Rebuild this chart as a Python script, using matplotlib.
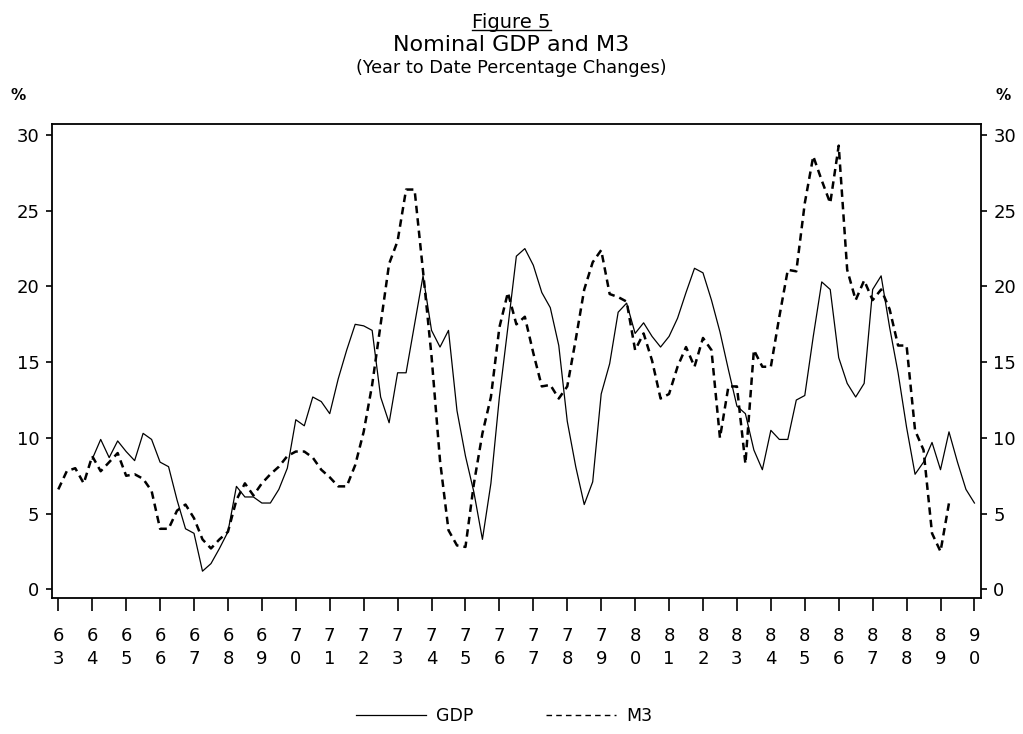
import matplotlib.pyplot as plt
from matplotlib.lines import Line2D
import numpy as np

# year-to-date % changes, quarterly
# GDP starts 1964 Q1, M3 starts 1963 Q1
gdp = [8.6, 9.9, 8.7, 9.8, 9.1, 8.5, 10.3, 9.9,
       8.4, 8.1, 5.9, 4.0, 3.7, 1.2, 1.7, 2.7,
       3.8, 6.8, 6.1, 6.1, 5.7, 5.7, 6.6, 8.0,
       11.2, 10.8, 12.7, 12.4, 11.6, 13.9, 15.8, 17.5,
       17.4, 17.1, 12.7, 11.0, 14.3, 14.3, 17.5, 20.7,
       17.1, 16.0, 17.1, 11.8, 8.8, 6.4, 3.3, 7.0,
       12.7, 17.3, 22.0, 22.5, 21.4, 19.6, 18.6, 16.1,
       11.1, 8.1, 5.6, 7.1, 12.9, 14.9, 18.3, 18.9,
       16.9, 17.6, 16.7, 16.0, 16.7, 17.9, 19.6, 21.2,
       20.9, 19.1, 17.0, 14.5, 12.1, 11.6, 9.2, 7.9,
       10.5, 9.9, 9.9, 12.5, 12.8, 16.7, 20.3, 19.8,
       15.3, 13.6, 12.7, 13.6, 19.8, 20.7, 17.3, 14.3,
       10.7, 7.6, 8.4, 9.7, 7.9, 10.4, 8.4, 6.6,
       5.7]
m3 = [6.6, 7.8, 8.0, 7.0, 8.8, 7.8, 8.4, 9.0,
      7.5, 7.6, 7.3, 6.5, 4.0, 4.0, 5.2, 5.6,
      4.7, 3.3, 2.7, 3.3, 3.8, 5.9, 7.0, 6.2,
      7.0, 7.6, 8.1, 8.8, 9.1, 9.1, 8.7, 7.9,
      7.4, 6.8, 6.8, 8.2, 10.4, 13.5, 17.5, 21.5,
      23.0, 26.4, 26.4, 21.0, 15.4, 8.5, 3.9, 2.9,
      2.8, 7.0, 10.3, 12.7, 17.3, 19.6, 17.5, 18.0,
      15.6, 13.4, 13.5, 12.6, 13.4, 16.5, 19.8, 21.6,
      22.4, 19.5, 19.3, 19.0, 15.8, 16.9, 15.1, 12.6,
      12.9, 14.7, 16.0, 14.7, 16.6, 15.8, 10.0, 13.4,
      13.4, 8.3, 15.8, 14.7, 14.7, 18.0, 21.1, 21.0,
      25.5, 28.6, 27.0, 25.5, 29.3, 21.1, 19.1, 20.4,
      19.1, 19.8, 18.5, 16.1, 16.1, 10.5, 9.2, 3.7,
      2.5, 5.7]
years = list(range(63, 91))
year_labels = [f"{y // 10}\n{y % 10}" for y in years]
yticks = [0, 5, 10, 15, 20, 25, 30]

t_gdp = 64 + np.arange(len(gdp)) / 4
t_m3 = 63 + np.arange(len(m3)) / 4

fig = plt.figure(figsize=(10.23, 7.34), dpi=100)
ax = fig.add_axes([0.0508, 0.1849, 0.9079, 0.6462])

ax.plot(t_gdp, gdp, color='black', lw=0.9)
ax.plot(t_m3, m3, color='black', lw=1.8, dashes=(3, 2))

ax.set_xlim(62.814, 90.186)
ax.set_ylim(-0.59, 30.73)
ax.set_xticks(years)
ax.set_xticklabels(year_labels, linespacing=1.3)
ax.set_yticks(yticks)
ax.tick_params(axis='x', direction='out', length=9, width=1.2, pad=12, labelsize=13)
ax.tick_params(axis='y', direction='out', length=4, width=1.2, pad=5, labelsize=13,
               left=True, right=True, labelleft=True, labelright=True)
for s in ax.spines.values():
    s.set_linewidth(1.3)

# titles
t1 = fig.text(0.5, 0.970, "Figure 5", ha='center', va='center', fontsize=14)
fig.text(0.5, 0.939, "Nominal GDP and M3", ha='center', va='center', fontsize=16)
fig.text(0.5, 0.907, "(Year to Date Percentage Changes)", ha='center', va='center', fontsize=12.7)

# underline "Figure 5"
fig.canvas.draw()
bb = t1.get_window_extent().transformed(fig.transFigure.inverted())
fig.add_artist(Line2D([bb.x0, bb.x1], [bb.y0 + 0.002, bb.y0 + 0.002],
                      transform=fig.transFigure, color='black', lw=1))

fig.text(18 / 1023, 1 - 95 / 734, "%", ha='center', va='center', fontsize=11, fontweight='bold')
fig.text(1003 / 1023, 1 - 95 / 734, "%", ha='center', va='center', fontsize=11, fontweight='bold')

handles = [Line2D([], [], color='black', lw=0.9),
           Line2D([], [], color='black', lw=1.0, dashes=(4, 3))]
fig.legend(handles, ["GDP", "M3"], loc='center', bbox_to_anchor=(0.493, 1 - 716 / 734),
           ncol=2, frameon=False, fontsize=12.5, handlelength=4.0, handletextpad=0.6,
           columnspacing=4.2)

fig.savefig("out.png", dpi=100)
